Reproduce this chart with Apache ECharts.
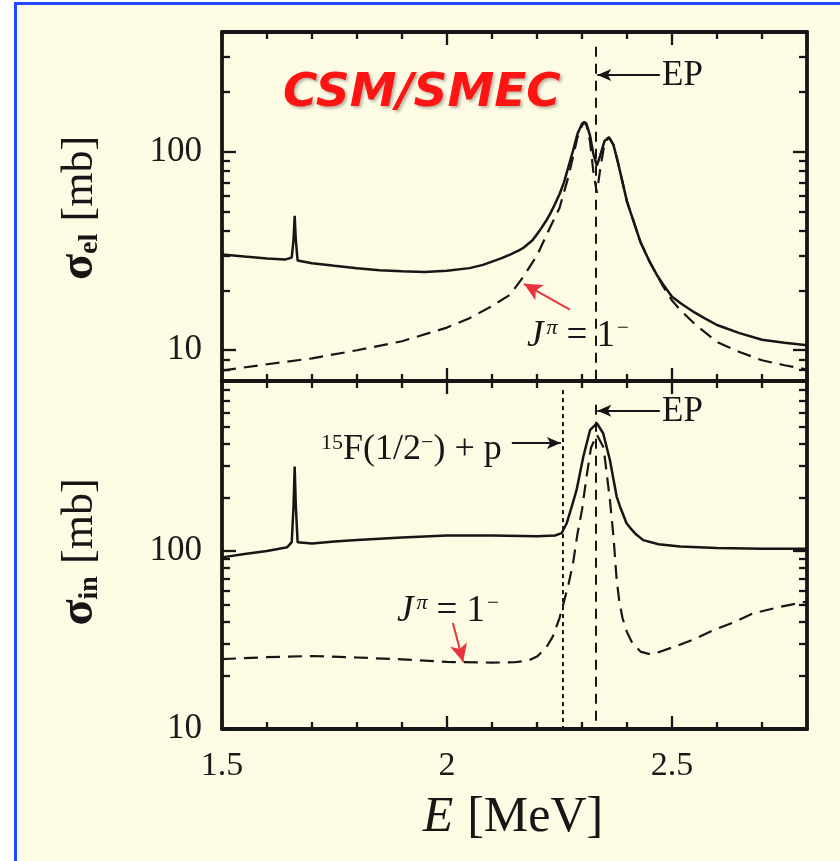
<!DOCTYPE html>
<html>
<head>
<meta charset="utf-8">
<script src="https://cdn.jsdelivr.net/npm/echarts@6/dist/echarts.min.js"></script>
<style>
html,body{margin:0;padding:0;background:#ffffff;overflow:hidden;}
#bg{position:absolute;left:14px;top:2px;width:840px;height:870px;border-left:3px solid #2448ff;border-top:3px solid #2448ff;background:#fdfbe3;}
#c{position:absolute;left:0;top:0;width:840px;height:861px;}
</style>
</head>
<body>
<div id="bg"></div>
<div id="c"></div>
<script>
// ---- tick labels ----
const xTicks = [1.5, 2, 2.5];
const yTicks = [10, 100];
// ---- marker energies (MeV) ----
const epEnergy = 2.331;
const thresholdEnergy = 2.257;

// ---- elastic cross section (top panel), total ----
const elTotalE = [1.5,1.55,1.6,1.64,1.655,1.659,1.6615,1.664,1.668,1.7,1.75,1.8,1.85,1.9,1.95,2.0,2.05,2.08,2.12,2.14,2.16,2.17,2.19,2.2,2.21,2.22,2.23,2.24,2.25,2.26,2.27,2.28,2.29,2.3,2.305,2.31,2.318,2.325,2.333,2.34,2.35,2.36,2.37,2.38,2.4,2.43,2.45,2.466,2.48,2.5,2.52,2.55,2.57,2.6,2.65,2.7,2.75,2.8];
const elTotal  = [30.3,29.6,29.0,28.6,29.3,36,47.5,36,28.3,27.4,26.6,25.9,25.3,25.0,24.8,25.1,25.9,26.9,29,30.3,31.8,32.8,35.8,38.4,41.3,44.7,49,54.5,61,70,84,101,123,138,141,138,120,98,85,95,113,118,108,88,56,35,28,24,21.5,18.6,17.2,15.5,14.6,13.4,12.2,11.3,10.9,10.6];
// ---- elastic, J^pi = 1^- ----
const elJ1E = [1.5,1.6,1.7,1.8,1.9,2.0,2.05,2.1,2.14,2.17,2.2,2.23,2.25,2.27,2.29,2.3,2.305,2.31,2.318,2.325,2.333,2.34,2.35,2.36,2.37,2.38,2.4,2.43,2.45,2.466,2.48,2.5,2.52,2.55,2.6,2.65,2.7,2.75,2.8];
const elJ1  = [7.9,8.5,9.1,10,11.1,13,14.5,16.7,19,23.5,30,42,52,75,118,135,140,136,112,80,62,80,110,118,108,88,56,35,28,24,21,17.8,15.8,13.6,11,9.8,8.9,8.4,8.0];

// ---- inelastic cross section (bottom panel), total ----
const inTotalE = [1.5,1.55,1.6,1.645,1.655,1.659,1.6615,1.664,1.668,1.7,1.75,1.8,1.9,2.0,2.1,2.2,2.24,2.255,2.266,2.278,2.288,2.303,2.318,2.333,2.347,2.362,2.377,2.385,2.399,2.41,2.42,2.436,2.47,2.518,2.6,2.7,2.8];
const inTotal  = [92,96,100,105,112,180,298,180,112,110,113,115,119,122,122,121,122,126,143,180,220,339,478,521,458,324,202,176,143,132,124,115,109,106,104,103,103];
// ---- inelastic, J^pi = 1^- ----
const inJ1E = [1.5,1.6,1.7,1.8,1.9,2.0,2.1,2.15,2.18,2.2,2.22,2.235,2.25,2.26,2.27,2.28,2.29,2.3,2.31,2.32,2.333,2.348,2.362,2.37,2.377,2.383,2.39,2.4,2.41,2.43,2.448,2.47,2.506,2.55,2.593,2.64,2.681,2.74,2.8];
const inJ1  = [24.7,25.3,25.7,25.2,24.6,23.8,23.6,23.7,24.2,25.5,28.5,33,42,52,65,85,125,170,260,380,450,380,194,120,69,52,42,35,31,27.2,26.4,27,29,32,36,40,44.7,48.5,52];

const ink = '#161616';
const red = '#e8343c';
const serif = 'Liberation Serif';

function pairs(xs, ys) { return xs.map((x, i) => [x, ys[i]]); }

const tickStyle = { color: ink, width: 2.3 };

function xAxis(gridIndex, position, showLabels) {
  return {
    type: 'value', gridIndex, position, min: 1.5, max: 2.8, interval: 0.5,
    axisLine: { show: true, onZero: false, lineStyle: { color: ink, width: 3.8 } },
    axisTick: { show: true, inside: true, length: 13, lineStyle: tickStyle },
    minorTick: { show: true, splitNumber: 5, length: 7, lineStyle: tickStyle },
    splitLine: { show: false }, minorSplitLine: { show: false },
    axisLabel: {
      show: showLabels, margin: 20, fontSize: 34, fontFamily: serif, color: '#1a1a1a',
      formatter: v => { const t = xTicks.find(t => Math.abs(t - v) < 1e-6); return t === undefined ? '' : String(t); }
    }
  };
}
function yAxis(gridIndex, position, min, max, showLabels) {
  return {
    type: 'log', logBase: 10, gridIndex, position, min, max,
    axisLine: { show: true, onZero: false, lineStyle: { color: ink, width: 3.8 } },
    axisTick: { show: true, inside: true, length: 14, lineStyle: tickStyle },
    minorTick: { show: true, splitNumber: 9, length: 8, lineStyle: tickStyle },
    splitLine: { show: false }, minorSplitLine: { show: false },
    axisLabel: {
      show: showLabels, margin: 20, fontSize: 35, fontFamily: serif, color: '#1a1a1a',
      formatter: v => { const t = yTicks.find(t => Math.abs(Math.log10(v / t)) < 1e-6); return t === undefined ? '' : String(t); }
    }
  };
}

function vline(x, yTop, yBot, style) {
  return [{ coord: [x, yTop], symbol: 'none', lineStyle: style }, { coord: [x, yBot], symbol: 'none' }];
}
function arrow(x0, y0, x1, y1, color, width, size) {
  return [{ coord: [x0, y0], symbol: 'none', lineStyle: { color, width, type: 'solid' } },
          { coord: [x1, y1], symbol: 'arrow', symbolSize: size }];
}

const yrTop = [7, 400];
const yrBot = [10, 900];

const chart = echarts.init(document.getElementById('c'), null, { renderer: 'canvas' });

const jLabelRich = {
  j: { fontFamily: serif, fontStyle: 'italic', fontSize: 37, fill: ink },
  p: { fontFamily: serif, fontStyle: 'italic', fontSize: 22, verticalAlign: 'top', fill: ink, padding: [0, 9, 0, 3] },
  t: { fontFamily: serif, fontSize: 37, fill: ink },
  m: { fontFamily: serif, fontSize: 21, verticalAlign: 'top', fill: ink, padding: [0, 0, 0, 2] }
};

const option = {
  animation: false,
  backgroundColor: 'transparent',
  grid: [
    { left: 222, right: 33, top: 32, height: 349 },
    { left: 222, right: 33, top: 381, height: 348 }
  ],
  xAxis: [
    xAxis(0, 'bottom', false),
    xAxis(0, 'top', false),
    xAxis(1, 'bottom', true),
    xAxis(1, 'top', false)
  ],
  yAxis: [
    yAxis(0, 'left', yrTop[0], yrTop[1], true),
    yAxis(0, 'right', yrTop[0], yrTop[1], false),
    yAxis(1, 'left', yrBot[0], yrBot[1], true),
    yAxis(1, 'right', yrBot[0], yrBot[1], false)
  ],
  series: [
    {
      name: 'sigma_el total', type: 'line', xAxisIndex: 0, yAxisIndex: 0,
      data: pairs(elTotalE, elTotal), showSymbol: false, symbol: 'none',
      lineStyle: { color: ink, width: 2.5 }, z: 3,
      markLine: {
        silent: true, animation: false, label: { show: false }, symbol: ['none', 'none'],
        data: [
          vline(epEnergy, 337, 7, { color: ink, width: 2, type: [10, 7] }),
          arrow(2.473, 243, 2.334, 243, ink, 2, [9, 14]),
          arrow(2.273, 16, 2.171, 21.6, red, 2, [13, 18])
        ]
      }
    },
    {
      name: 'sigma_el J=1-', type: 'line', xAxisIndex: 0, yAxisIndex: 0,
      data: pairs(elJ1E, elJ1), showSymbol: false, symbol: 'none',
      lineStyle: { color: ink, width: 2.2, type: [14, 8] }, z: 3
    },
    {
      name: 'sigma_in total', type: 'line', xAxisIndex: 2, yAxisIndex: 2,
      data: pairs(inTotalE, inTotal), showSymbol: false, symbol: 'none',
      lineStyle: { color: ink, width: 2.5 }, z: 3,
      markLine: {
        silent: true, animation: false, label: { show: false }, symbol: ['none', 'none'],
        data: [
          vline(epEnergy, 661, 10, { color: ink, width: 2, type: [10, 7] }),
          vline(thresholdEnergy, 800, 10, { color: ink, width: 2, type: [4, 4] }),
          arrow(2.473, 612, 2.334, 612, ink, 2, [9, 14]),
          arrow(2.144, 404, 2.253, 404, ink, 2, [9, 14]),
          arrow(2.013, 39.4, 2.036, 23.8, red, 2, [13, 18])
        ]
      }
    },
    {
      name: 'sigma_in J=1-', type: 'line', xAxisIndex: 2, yAxisIndex: 2,
      data: pairs(inJ1E, inJ1), showSymbol: false, symbol: 'none',
      lineStyle: { color: ink, width: 2.2, type: [14, 8] }, z: 3
    }
  ],
  graphic: [
    {
      type: 'text', x: 283, y: 94, z: 10,
      style: {
        text: 'CSM/SMEC', fill: '#ff1414', font: 'italic bold 47px "DejaVu Sans"',
        verticalAlign: 'middle', align: 'left',
        textShadowColor: 'rgba(0,0,0,0.28)', textShadowBlur: 3, textShadowOffsetX: 2, textShadowOffsetY: 2
      }
    },
    { type: 'text', x: 662, y: 76, z: 10, style: { text: 'EP', fill: ink, font: '35px "Liberation Serif"', verticalAlign: 'middle' } },
    { type: 'text', x: 662, y: 412, z: 10, style: { text: 'EP', fill: ink, font: '35px "Liberation Serif"', verticalAlign: 'middle' } },
    {
      type: 'text', x: 527, y: 336, z: 10,
      style: { text: '{j|J}{p|π}{t|= 1}{m|−}', verticalAlign: 'middle', fill: ink, fontSize: 37, rich: jLabelRich }
    },
    {
      type: 'text', x: 397, y: 611, z: 10,
      style: { text: '{j|J}{p|π}{t|= 1}{m|−}', verticalAlign: 'middle', fill: ink, fontSize: 37, rich: jLabelRich }
    },
    {
      type: 'text', x: 321, y: 450, z: 10,
      style: {
        text: '{s|15}{t|F(1/2}{m|−}{t|) + p}', verticalAlign: 'middle', fill: ink,
        rich: {
          s: { fontFamily: serif, fontSize: 22, verticalAlign: 'top', fill: ink },
          t: { fontFamily: serif, fontSize: 36, fill: ink },
          m: { fontFamily: serif, fontSize: 22, verticalAlign: 'top', fill: ink }
        }
      }
    },
    {
      type: 'text', x: 80, y: 208, rotation: Math.PI / 2, z: 10,
      style: {
        text: '{s|σ}{b|el} {t|[mb]}', align: 'center', verticalAlign: 'middle', fill: ink, fontSize: 44,
        rich: {
          s: { fontFamily: serif, fontSize: 48, fontWeight: 'bold', fill: ink },
          b: { fontFamily: serif, fontSize: 28, fontWeight: 'bold', verticalAlign: 'bottom', fill: ink },
          t: { fontFamily: serif, fontSize: 44, fill: ink }
        }
      }
    },
    {
      type: 'text', x: 80, y: 552, rotation: Math.PI / 2, z: 10,
      style: {
        text: '{s|σ}{b|in} {t|[mb]}', align: 'center', verticalAlign: 'middle', fill: ink, fontSize: 44,
        rich: {
          s: { fontFamily: serif, fontSize: 48, fontWeight: 'bold', fill: ink },
          b: { fontFamily: serif, fontSize: 28, fontWeight: 'bold', verticalAlign: 'bottom', fill: ink },
          t: { fontFamily: serif, fontSize: 44, fill: ink }
        }
      }
    },
    {
      type: 'text', x: 513, y: 818, z: 10,
      style: {
        text: '{e|E} {t|[MeV]}', align: 'center', verticalAlign: 'middle', fill: ink, fontSize: 50,
        rich: {
          e: { fontFamily: serif, fontStyle: 'italic', fontSize: 50, fill: ink },
          t: { fontFamily: serif, fontSize: 50, fill: ink }
        }
      }
    }
  ]
};
chart.setOption(option);
</script>
</body>
</html>
